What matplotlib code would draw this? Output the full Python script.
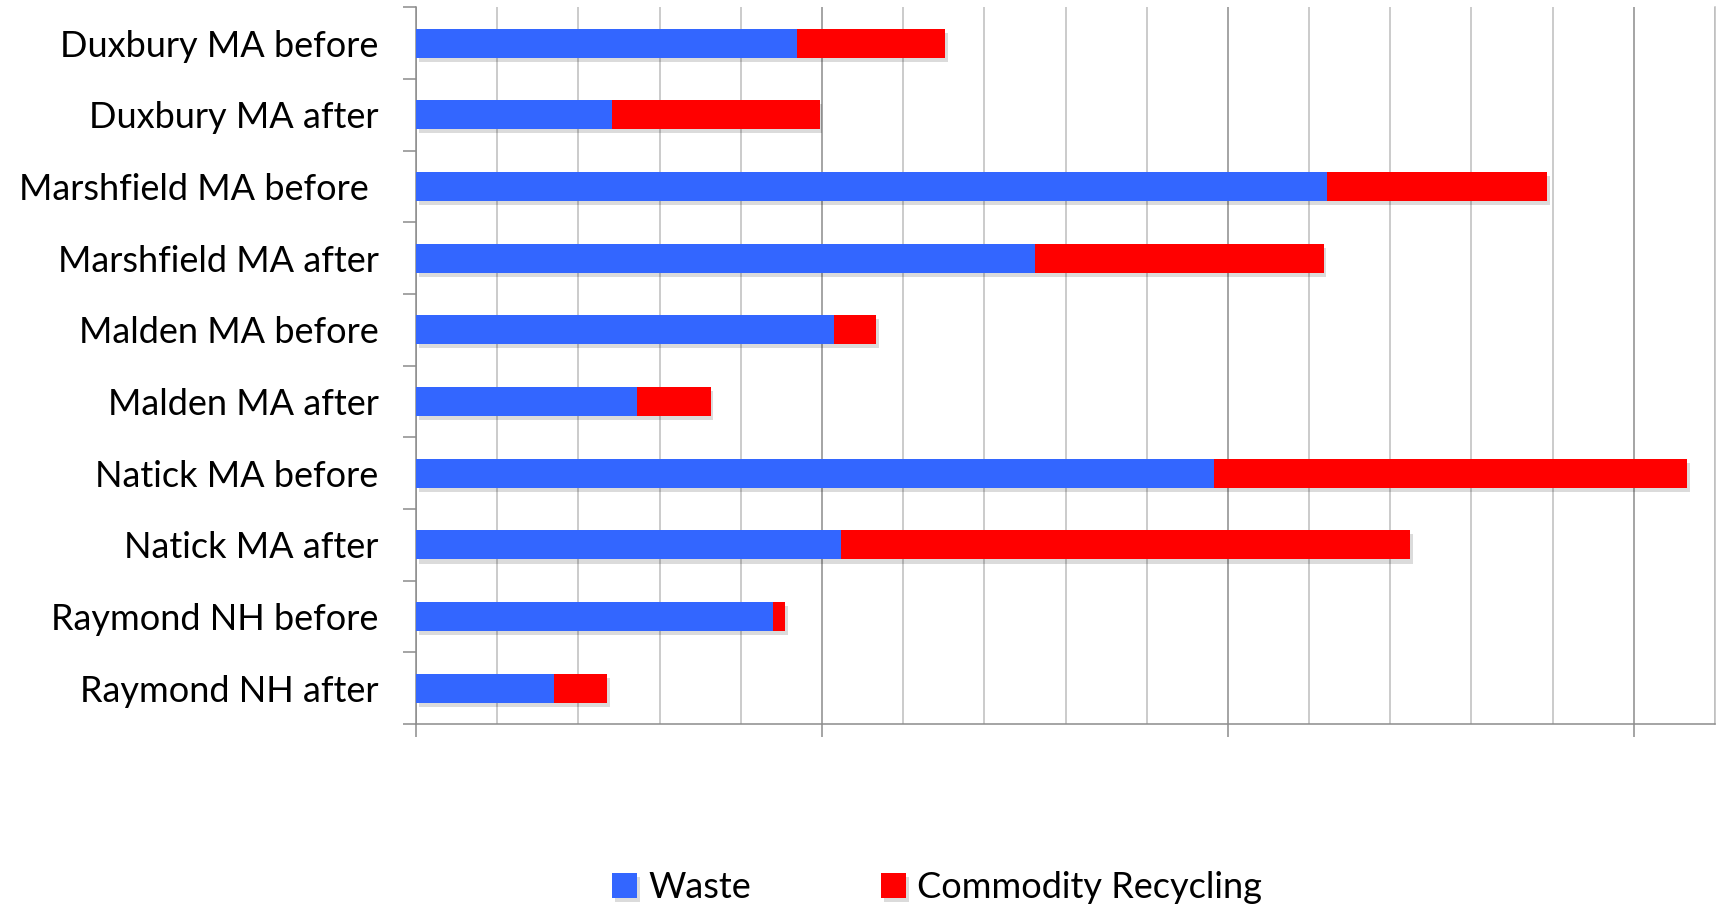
import numpy as np
import matplotlib.pyplot as plt
import matplotlib.patheffects as pe
from matplotlib.ticker import MultipleLocator, FixedLocator, NullFormatter

# Category labels (top to bottom) and stacked values
towns = ['Duxbury MA before', 'Duxbury MA after', 'Marshfield MA before ',
         'Marshfield MA after', 'Malden MA before', 'Malden MA after',
         'Natick MA before', 'Natick MA after', 'Raymond NH before',
         'Raymond NH after']
waste = [4.69, 2.42, 11.22, 7.63, 5.15, 2.72, 9.83, 5.23, 4.40, 1.70]
recycling = [1.83, 2.55, 2.71, 3.55, 0.52, 0.91, 5.83, 7.01, 0.15, 0.65]

plt.rcParams['font.family'] = ['Lato', 'DejaVu Sans']

fig = plt.figure(figsize=(17.19, 9.08), dpi=100)
ax = fig.add_axes([0.242, 0.2026, 0.9977 - 0.242, 0.992 - 0.2026])

y = np.arange(len(towns))
shadow = [pe.SimplePatchShadow(offset=(2, -3), alpha=0.14, shadow_rgbFace='k'), pe.Normal()]
b1 = ax.barh(y, waste, height=0.405, color='#3366FF', label='Waste', zorder=3)
b2 = ax.barh(y, recycling, left=waste, height=0.405, color='#FF0000',
             label='Commodity Recycling', zorder=3)
for bar in list(b1) + list(b2):
    bar.set_path_effects(shadow)

ax.set_xlim(0, 16)
ax.set_ylim(len(towns) - 0.5, -0.5)

# x grid: light minor lines every unit, darker major every 5
ax.xaxis.set_major_locator(MultipleLocator(5))
ax.xaxis.set_minor_locator(MultipleLocator(1))
ax.xaxis.set_major_formatter(NullFormatter())
ax.grid(True, axis='x', which='minor', color='#BDBDBD', linewidth=1.1, zorder=0)
ax.grid(True, axis='x', which='major', color='#8C8C8C', linewidth=1.1, zorder=0)
ax.tick_params(axis='x', which='major', direction='out', length=9.5, width=1.1, color='#8C8C8C')
ax.tick_params(axis='x', which='minor', length=0)

# y ticks at category boundaries, labels at centres
ax.yaxis.set_major_locator(FixedLocator(np.arange(-0.5, len(towns), 1)))
ax.yaxis.set_major_formatter(NullFormatter())
ax.yaxis.set_minor_locator(FixedLocator(y))
ax.set_yticks(y, towns, minor=True)
ax.tick_params(axis='y', which='major', direction='out', length=9.5, width=1.1, color='#8C8C8C')
ax.tick_params(axis='y', which='minor', length=0, pad=27, labelsize=26)

for s in ['left', 'bottom']:
    ax.spines[s].set_color('#8C8C8C')
    ax.spines[s].set_linewidth(1.1)
ax.spines['right'].set_color('#BDBDBD')
ax.spines['right'].set_linewidth(1.1)
ax.spines['top'].set_visible(False)

fig.legend(handles=[b1, b2], loc='center', bbox_to_anchor=(0.545, 0.0224),
           ncol=2, frameon=False, fontsize=26, handlelength=0.7,
           handleheight=0.7, handletextpad=0.3, columnspacing=3.6,
           borderpad=0)

fig.savefig('out.png', dpi=100)
